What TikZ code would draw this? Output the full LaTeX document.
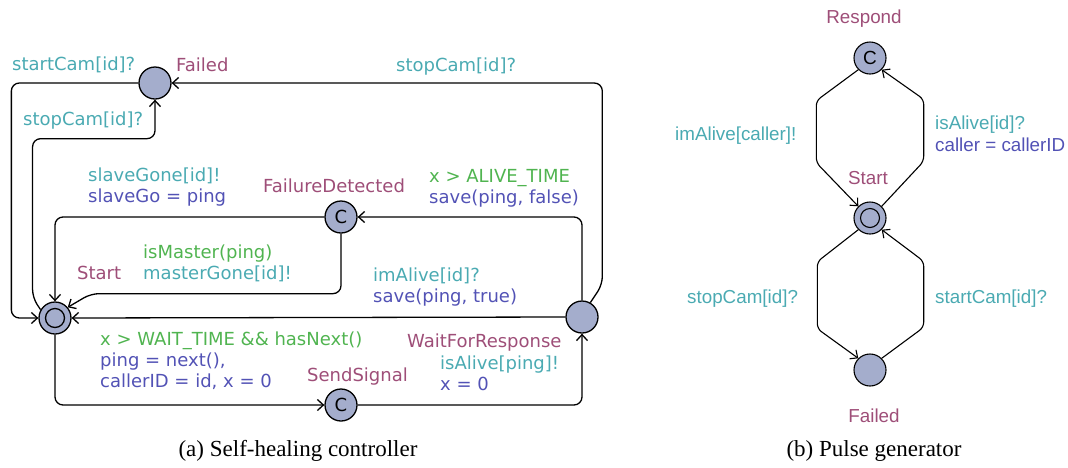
\documentclass[tikz,border=0pt]{standalone}
\usepackage{fontspec}
\setmainfont{Liberation Serif}
\newfontfamily\uppfont{DejaVu Sans}
\newfontfamily\pulfont{Liberation Sans}
\usetikzlibrary{arrows.meta}
\definecolor{locfill}{HTML}{A4ADCC}
\definecolor{locname}{HTML}{9E4E78}
\definecolor{sync}{HTML}{4AAAB2}
\definecolor{guard}{HTML}{50B450}
\definecolor{assign}{HTML}{5252B5}
\tikzset{
  loc/.style={draw, circle, fill=locfill, minimum size=32pt, inner sep=0pt, line width=1.3pt},
  init/.style={loc, path picture={\draw[line width=1.3pt] (path picture bounding box.center) circle (9.5pt);}},
  comm/.style={loc, font=\uppfont\fontsize{18}{18}\selectfont},
  loctwo/.style={loc, line width=1.1pt},
  inittwo/.style={loctwo, path picture={\draw[line width=1.1pt] (path picture bounding box.center) circle (9.5pt);}},
  commtwo/.style={loctwo, font=\pulfont\fontsize{19}{19}\selectfont},
  lbl/.style={font=\uppfont\fontsize{18}{21}\selectfont, align=left, anchor=base west, inner sep=0pt},
  lname/.style={lbl, text=locname},
  plbl/.style={font=\pulfont\fontsize{18.8}{22}\selectfont, align=left, anchor=base west, inner sep=0pt},
  pname/.style={plbl, text=locname, anchor=base},
  subcap/.style={font=\fontsize{23}{26}\selectfont, anchor=base, inner sep=0pt},
  arr/.style={-{Straight Barb[length=6pt,width=11pt]}, line width=1.3pt, rounded corners=8pt},
  arrtwo/.style={-{Straight Barb[length=6pt,width=11pt]}, line width=1.1pt, rounded corners=5pt}
}
\begin{document}
\begin{tikzpicture}[x=1pt, y=-1pt]
\useasboundingbox (0,0) rectangle (1068,467);
\node[loc] (failA) at (155,83) {};
\node[init] (startA) at (55,318) {};
\node[comm] (fdet) at (341,217) {C};
\node[loc] (wait) at (582,317) {};
\node[comm] (send) at (341,405) {C};
\draw[arr] (failA.west) -- ++(-127,0) |- (startA.west);
\draw[arr] (startA.150) -- ++(-8,-12) -- ++(0,-159) -| (failA.south);
\draw[arr] (fdet.west) -| (startA.north);
\draw[arr] (fdet.south) -- ++(0,60) -- ++(-250,0) -- (startA.40);
\draw[arr] (wait.west) -- (startA.east);
\draw[arr] (wait.north) |- (fdet.east);
\draw[arr] (wait.60) -- ++(12,-18) |- (failA.east);
\draw[arr] (startA.south) |- (send.west);
\draw[arr] (send.east) -| (wait.south);
\node[lname] (nfailA) at (176,71) {Failed};
\node[lname] (nfdet) at (263,192) {FailureDetected};
\node[lname] (nstartA) at (77,279) {Start};
\node[lname] (nwait) at (407,347) {WaitForResponse};
\node[lname] (nsend) at (307,381) {SendSignal};
\node[lbl, text=sync] (lstart) at (12,70) {startCam[id]?};
\node[lbl, text=sync] (lstopin) at (23,125) {stopCam[id]?};
\node[lbl, text=sync] (lstopout) at (396,71) {stopCam[id]?};
\node[lbl] (lslave) at (88,202) {\textcolor{sync}{slaveGone[id]!}\\\textcolor{assign}{slaveGo = ping}};
\node[lbl] (lalive) at (429,203) {\textcolor{guard}{x > ALIVE\_TIME}\\\textcolor{assign}{save(ping, false)}};
\node[lbl] (lmaster) at (143,279) {\textcolor{guard}{isMaster(ping)}\\\textcolor{sync}{masterGone[id]!}};
\node[lbl] (limalive) at (373,302) {\textcolor{sync}{imAlive[id]?}\\\textcolor{assign}{save(ping, true)}};
\node[lbl] (lnext) at (100,387) {\textcolor{guard}{x > WAIT\_TIME \&\& hasNext()}\\\textcolor{assign}{ping = next(),}\\\textcolor{assign}{callerID = id, x = 0}};
\node[lbl] (lisalive) at (440,390) {\textcolor{sync}{isAlive[ping]!}\\\textcolor{assign}{x = 0}};
\node[subcap] (capA) at (298,456) {(a) Self-healing controller};
\node[commtwo] (resp) at (870,58) {C};
\node[inittwo] (startB) at (870,218) {};
\node[loctwo] (failB) at (870,370) {};
\draw[arrtwo] (resp.225) -- ++(-42,31) -- ++(0,62) -- (startB.135);
\draw[arrtwo] (startB.45) -- ++(42,-45) -- ++(0,-62) -- (resp.-45);
\draw[arrtwo] (startB.225) -- ++(-41,32) -- ++(0,67) -- (failB.135);
\draw[arrtwo] (failB.45) -- ++(42,-31) -- ++(0,-66) -- (startB.-45);
\node[pname] (nresp) at (864,23) {Respond};
\node[pname] (nstartB) at (868,184) {Start};
\node[pname] (nfailB) at (874,422) {Failed};
\node[plbl, text=sync] (lcaller) at (675,140) {imAlive[caller]!};
\node[plbl] (lisid) at (935,151) {\textcolor{sync}{isAlive[id]?}\\\textcolor{assign}{caller = callerID}};
\node[plbl, text=sync] (lstopB) at (687,303) {stopCam[id]?};
\node[plbl, text=sync] (lstartB) at (935,303) {startCam[id]?};
\node[subcap] (capB) at (874,456) {(b) Pulse generator};
\end{tikzpicture}
\end{document}
